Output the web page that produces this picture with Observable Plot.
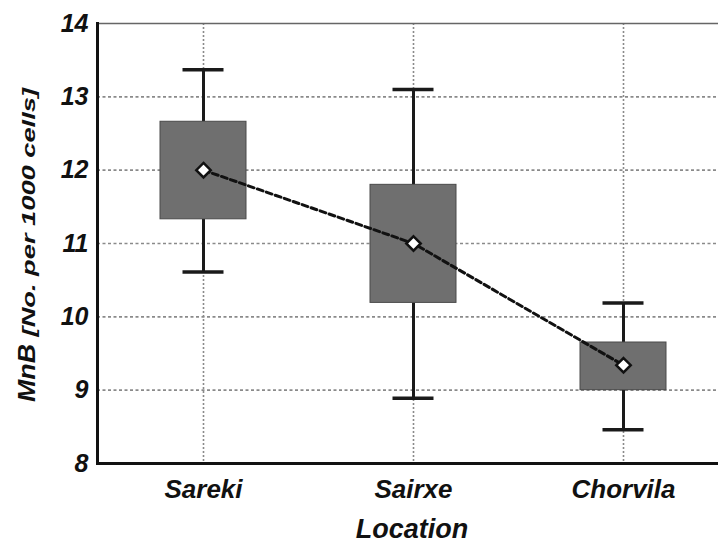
<!DOCTYPE html>
<html>
<head>
<meta charset="utf-8">
<script src="https://cdn.jsdelivr.net/npm/d3@7"></script>
<script src="https://cdn.jsdelivr.net/npm/@observablehq/plot@0.6"></script>
<style>
  html, body { margin: 0; padding: 0; background: white; overflow: hidden; }
  #chart svg { display: block; }
</style>
</head>
<body>
<div id="chart"></div>
<script>
const locations   = ["Sareki", "Sairxe", "Chorvila"];
const whiskerLow  = [10.61, 8.89, 8.46];
const q1          = [11.33, 10.19, 9.00];
const meanVal     = [12.00, 11.00, 9.34];
const q3          = [12.66, 11.80, 9.65];
const whiskerHigh = [13.37, 13.10, 10.19];
const yTicks      = [8, 9, 10, 11, 12, 13, 14];
const gridTicks   = [9, 10, 11, 12, 13];
const yLabelMain  = "MnB";
const yLabelUnit  = " [No. per 1000 cells]";
const xLabel      = "Location";

const rows = locations.map((loc, i) => ({
  loc, lo: whiskerLow[i], q1: q1[i], mean: meanVal[i], q3: q3[i], hi: whiskerHigh[i]
}));

const font = "Liberation Sans, Arial, sans-serif";
const W = 718, H = 546;

const plot = Plot.plot({
  width: W,
  height: H,
  marginLeft: 97,
  marginRight: -10,
  marginTop: 23,
  marginBottom: 83,
  style: { fontFamily: font, background: "white" },
  x: { type: "band", domain: locations, padding: 0 },
  y: { domain: [8, 14] },
  marks: [
    Plot.gridY(gridTicks, { stroke: "#8a8a8a", strokeOpacity: 1, strokeWidth: 1.6, strokeDasharray: "3,2.5" }),
    Plot.gridX(locations, { stroke: "#8a8a8a", strokeOpacity: 1, strokeWidth: 1.6, strokeDasharray: "2,2" }),
    Plot.ruleX(rows, { x: "loc", y1: "lo", y2: "q1", stroke: "#1a1a1a", strokeWidth: 3 }),
    Plot.ruleX(rows, { x: "loc", y1: "q3", y2: "hi", stroke: "#1a1a1a", strokeWidth: 3 }),
    Plot.tickY(rows, { x: "loc", y: "lo", stroke: "#1a1a1a", strokeWidth: 3.5, inset: 84.5 }),
    Plot.tickY(rows, { x: "loc", y: "hi", stroke: "#1a1a1a", strokeWidth: 3.5, inset: 84.5 }),
    Plot.barY(rows, { x: "loc", y1: "q1", y2: "q3", fill: "#6f6f6f", stroke: "#4a4a4a", strokeWidth: 1, insetLeft: 62, insetRight: 62 }),
    Plot.line(rows, { x: "loc", y: "mean", stroke: "#111", strokeWidth: 3, strokeDasharray: "6,3.5" }),
    Plot.dot(rows, { x: "loc", y: "mean", symbol: "diamond2", r: 6.5, fill: "white", stroke: "#111", strokeWidth: 2.5 }),
    Plot.ruleY([14], { stroke: "#666", strokeWidth: 1.5 }),
    Plot.ruleY([8], { stroke: "#111", strokeWidth: 3 }),
    Plot.frame({ anchor: "left", stroke: "#111", strokeWidth: 3 }),
    Plot.axisY(yTicks, { tickSize: 0, tickPadding: 9, tickFormat: d3.format("d"), fontSize: 25, fontWeight: "bold", fontStyle: "italic", fill: "#111", label: null }),
    Plot.axisX(locations, { tickSize: 0, tickPadding: 16, fontSize: 26, fontWeight: "bold", fontStyle: "italic", fill: "#111", label: null })
  ]
});

document.getElementById("chart").appendChild(plot);

const svg = d3.select(plot);
const yl = svg.append("text")
  .attr("transform", "translate(35,245) rotate(-90)")
  .attr("text-anchor", "middle")
  .attr("font-family", font)
  .attr("font-weight", "bold")
  .attr("font-style", "italic")
  .attr("fill", "#111");
yl.append("tspan").attr("font-size", 24)
  .attr("textLength", 58).attr("lengthAdjust", "spacingAndGlyphs").text(yLabelMain);
yl.append("tspan").attr("font-size", 18)
  .attr("textLength", 256).attr("lengthAdjust", "spacingAndGlyphs").text(yLabelUnit);

svg.append("text")
  .attr("x", 412)
  .attr("y", 538)
  .attr("text-anchor", "middle")
  .attr("font-family", font)
  .attr("font-weight", "bold")
  .attr("font-style", "italic")
  .attr("font-size", 27)
  .attr("fill", "#111")
  .text(xLabel);
</script>
</body>
</html>
